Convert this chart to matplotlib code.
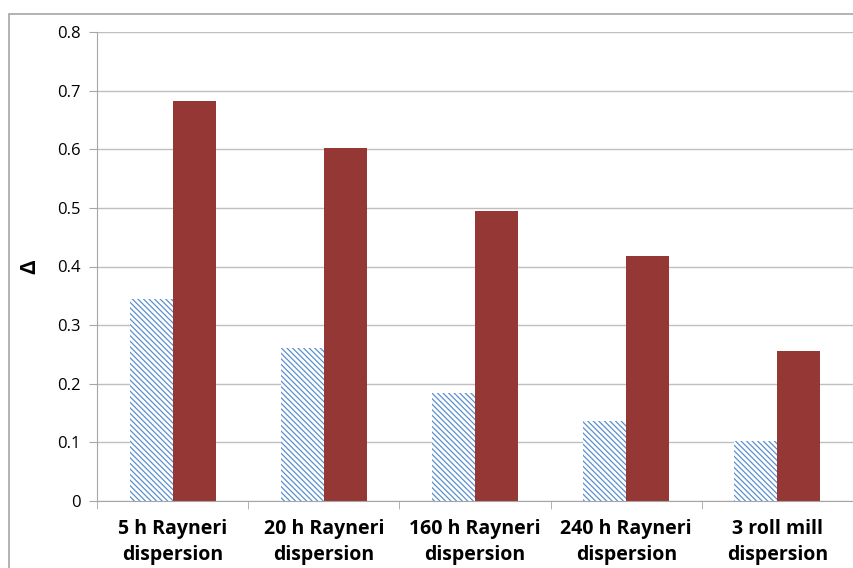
import numpy as np
import matplotlib
matplotlib.use('Agg')
from matplotlib import pyplot as plt
from matplotlib.patches import Rectangle

# data
categories = ['5 h Rayneri\ndispersion', '20 h Rayneri\ndispersion', '160 h Rayneri\ndispersion',
              '240 h Rayneri\ndispersion', '3 roll mill\ndispersion']
series_a = [0.345, 0.261, 0.184, 0.136, 0.102]
series_b = [0.682, 0.602, 0.495, 0.418, 0.256]
yticks = [0, 0.1, 0.2, 0.3, 0.4, 0.5, 0.6, 0.7, 0.8]

plt.rcParams['font.family'] = ['Open Sans', 'DejaVu Sans']
plt.rcParams['hatch.linewidth'] = 0.9

W, H = 854, 568
fig = plt.figure(figsize=(W / 100, H / 100), dpi=100)

# outer chart border (cropped at right and bottom)
fig.patches.append(Rectangle((9 / W, -0.1), 1.2, 1 - 14 / H + 0.1, transform=fig.transFigure,
                             fill=False, edgecolor='#a6a6a6', linewidth=1.2))

ax = fig.add_axes([97 / W, 67 / H, (853 - 97) / W, (501 - 32) / H])

x = np.arange(len(categories))
bw = 0.285
ax.bar(x - bw / 2, series_a, bw, color='white', edgecolor='#5b8fd0', hatch='\\' * 6, linewidth=0)
ax.bar(x + bw / 2, series_b, bw, color='#953735', linewidth=0)

ax.set_xlim(-0.5, len(categories) - 0.5)
ax.set_ylim(0, 0.8)
ax.set_yticks(yticks)
ax.set_yticklabels(['0' if v == 0 else f'{v:.1f}' for v in yticks], fontsize=12)
ax.yaxis.grid(True, color='#bfbfbf', linewidth=1)
ax.set_axisbelow(True)

ax.set_xticks(x)
ax.set_xticklabels(categories, fontsize=14, fontweight='bold', linespacing=1.4)
ax.set_xticks(np.arange(len(categories) + 1) - 0.5, minor=True)
ax.tick_params(axis='x', which='major', length=0, pad=13)
ax.tick_params(axis='x', which='minor', length=6, color='#a6a6a6')
ax.tick_params(axis='y', length=6, color='#a6a6a6', pad=6)

for s in ['top', 'right']:
    ax.spines[s].set_visible(False)
for s in ['left', 'bottom']:
    ax.spines[s].set_color('#a6a6a6')

ax.set_ylabel('Δ', fontsize=16, fontweight='bold', labelpad=12)

fig.savefig('out.png', dpi=100)
